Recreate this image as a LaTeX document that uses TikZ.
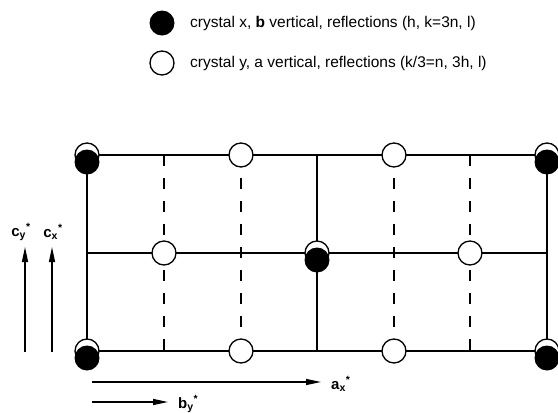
\documentclass[tikz,border=0pt]{standalone}
\usepackage{fontspec}
\setmainfont{Liberation Sans}
\usetikzlibrary{arrows.meta}
\begin{document}
\begin{tikzpicture}[x=1pt,y=-1pt,
  gridline/.style={line width=1.4pt},
  dashline/.style={line width=1.4pt, dash pattern=on 11pt off 12pt},
  opendot/.style={circle, draw, line width=1.3pt, fill=white, minimum size=24pt, inner sep=0pt},
  fulldot/.style={circle, fill=black, minimum size=25pt, inner sep=0pt},
  legtext/.style={font=\fontsize{15.5}{18}\selectfont, anchor=west, inner sep=0pt},
  axlabel/.style={font=\fontsize{15}{17}\selectfont\bfseries, inner sep=0pt},
  axisarrow/.style={line width=1.3pt, -{Triangle[length=15pt,width=6pt]}}]
\useasboundingbox (0,0) rectangle (558,413);
% grid points
\foreach \c/\x in {0/87,1/164,2/241,3/317,4/394,5/470,6/547}{
  \foreach \r/\y in {0/155,1/253,2/351}{
    \coordinate (g\c\r) at (\x,\y);
  }
}
% solid grid lines
\draw[gridline] (g00) -- (g60);
\draw[gridline] (g01) -- (g61);
\draw[gridline] (g02) -- (g62);
\draw[gridline] (g00) -- (g02);
\draw[gridline] (g30) -- (g32);
\draw[gridline] (g60) -- (g62);
% dashed verticals
\foreach \c in {1,2,4,5}{
  \draw[dashline] (g\c0) -- (g\c2);
}
% open circles (crystal y)
\foreach \p in {00,20,40,60,11,31,51,02,22,42,62}{
  \node[opendot] (o\p) at (g\p) {};
}
% filled circles (crystal x), slightly offset downward
\foreach \p in {00,60,31,02,62}{
  \node[fulldot] (f\p) at ([yshift=-7pt]g\p) {};
}
% legend
\node[fulldot] (legf) at (162,23) {};
\node[opendot] (lego) at (162,63) {};
\node[legtext] (legft) at (190,23) {crystal x, \textbf{b} vertical, reflections (h, k=3n, l)};
\node[legtext] (legot) at (190,63) {crystal y, a vertical, reflections (k/3=n, 3h, l)};
% reciprocal axes
\coordinate (cyS) at (25,352);
\coordinate (cyE) at (25,247);
\coordinate (cxS) at (52,352);
\coordinate (cxE) at (52,247);
\draw[axisarrow] (cyS) -- (cyE);
\draw[axisarrow] (cxS) -- (cxE);
\node[axlabel] (cyl) at (21,232) {c\textsubscript{y}\textsuperscript{*}};
\node[axlabel] (cxl) at (53,232) {c\textsubscript{x}\textsuperscript{*}};
\coordinate (axS) at (92,382);
\coordinate (axE) at (321,382);
\coordinate (byS) at (92,402);
\coordinate (byE) at (168,402);
\draw[axisarrow] (axS) -- (axE);
\draw[axisarrow] (byS) -- (byE);
\node[axlabel, anchor=west] (axl) at (331,384) {a\textsubscript{x}\textsuperscript{*}};
\node[axlabel, anchor=west] (byl) at (178,404) {b\textsubscript{y}\textsuperscript{*}};
\end{tikzpicture}
\end{document}
